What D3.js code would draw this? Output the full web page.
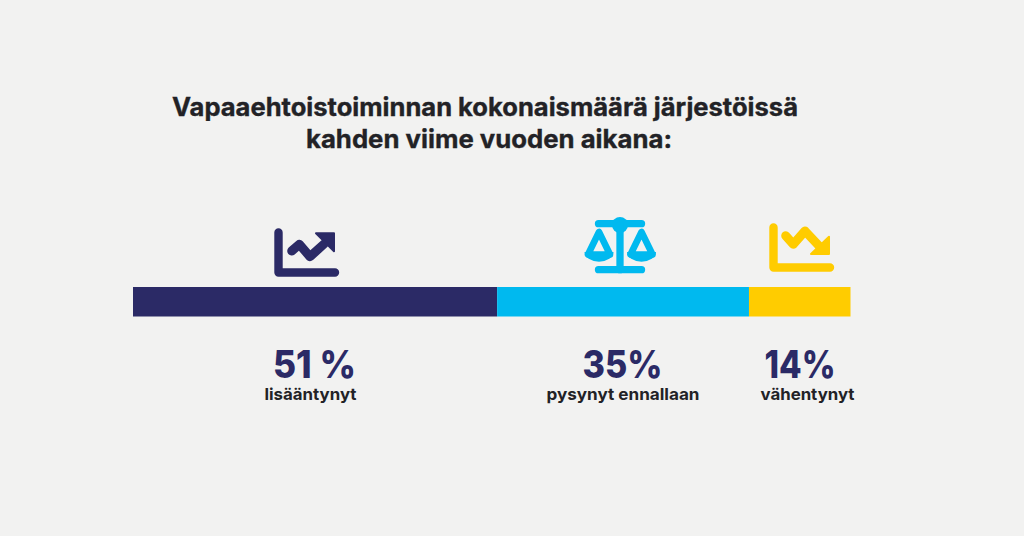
<!DOCTYPE html>
<html><head><meta charset="utf-8">
<script src="https://cdn.jsdelivr.net/npm/d3@7"></script>
<style>html,body{margin:0;padding:0;background:#f2f2f1}svg{display:block}text{font-family:Inter,Lato,sans-serif;}</style>
</head><body><svg width="1024" height="536"></svg>
<script>
const titleLines = ["Vapaaehtoistoiminnan kokonaismäärä järjestöissä","kahden viime vuoden aikana:"];
const categories = ["lisääntynyt","pysynyt ennallaan","vähentynyt"];
const values = [50.75,35.1,14.15];
const valueLabels = ["51 %","35%","14%"];
const colors = ["#2b2a66","#00b9ef","#ffcc00"];
const titleCenters = [485,489];
const titleWidths = [626,366];
const valueCenters = [314.5,622.5,800];
const valueWidths = [83,80,71];
const catCenters = [310.5,623,807.5];
const catWidths = [92,153,94];

const svg = d3.select("svg");
const x = d3.scaleLinear().domain([0,100]).range([133,850.5]);

svg.selectAll("text.title").data(titleLines).join("text").attr("class","title")
  .attr("x",(d,i)=>titleCenters[i]).attr("y",(d,i)=>116+i*32)
  .attr("text-anchor","middle").attr("font-size",25).attr("font-weight",700)
  .attr("textLength",(d,i)=>titleWidths[i]).attr("lengthAdjust","spacingAndGlyphs")
  .attr("fill","#222226").attr("stroke","#222226").attr("stroke-width",0.35).text(d=>d);

let acc = 0;
const stacked = values.map(v=>{const s={x0:acc,x1:acc+v};acc+=v;return s;});
svg.selectAll("rect.seg").data(stacked).join("rect").attr("class","seg")
  .attr("x",d=>x(d.x0)).attr("width",d=>x(d.x1)-x(d.x0))
  .attr("y",287).attr("height",29.5).attr("fill",(d,i)=>colors[i]);

svg.selectAll("text.val").data(valueLabels).join("text").attr("class","val")
  .attr("x",(d,i)=>valueCenters[i]).attr("y",378).attr("text-anchor","middle")
  .attr("font-size",38).attr("font-weight",800)
  .attr("textLength",(d,i)=>valueWidths[i]).attr("lengthAdjust","spacingAndGlyphs")
  .attr("fill","#2b2a66").text(d=>d);
svg.selectAll("text.cat").data(categories).join("text").attr("class","cat")
  .attr("x",(d,i)=>catCenters[i]).attr("y",400).attr("text-anchor","middle")
  .attr("font-size",16.5).attr("font-weight",700)
  .attr("textLength",(d,i)=>catWidths[i]).attr("lengthAdjust","spacingAndGlyphs")
  .attr("fill","#222226").text(d=>d);

function stroke(g,d,c,w){
  g.append("path").attr("d",d).attr("fill","none").attr("stroke",c).attr("stroke-width",w).attr("stroke-linecap","round").attr("stroke-linejoin","round");
}
function head(g,d,c){
  g.append("path").attr("d",d).attr("fill",c).attr("stroke",c).attr("stroke-width",2).attr("stroke-linejoin","round");
}
const up = svg.append("g").attr("transform","translate(306,249)");
stroke(up,"M-27.5,-16.5V23.5H29",colors[0],8.4);
stroke(up,"M-14.3,2L-6.7,-4.7L4,7.7L18,-5",colors[0],9);
head(up,"M10,-15.7H28V2.3Z",colors[0]);

const down = svg.append("g").attr("transform","translate(801,246)");
stroke(down,"M-27.5,-18.5V21.5H29",colors[2],8.4);
stroke(down,"M-15.3,-10.3L-7.7,-1.7L4,-15L20,2",colors[2],9);
head(down,"M28,-9.3V8H10Z",colors[2]);

const sc = svg.append("g").attr("transform","translate(620,244)");
stroke(sc,"M-21.5,-20.3H21.5",colors[1],7.3);
sc.append("circle").attr("cy",-19).attr("r",8).attr("fill",colors[1]);
stroke(sc,"M0,-19V25.7",colors[1],7.3);
stroke(sc,"M-21.5,25.7H21.5",colors[1],7.3);
[-21,21.5].forEach(dx=>{
  const p = sc.append("g").attr("transform",`translate(${dx},0)`);
  stroke(p,"M0,-12L-11,10.5H11Z",colors[1],6.6);
  p.append("path").attr("d","M-14.5,8H14.5A14.5,9.7 0 0 1 -14.5,8Z").attr("fill",colors[1]);
});
</script></body></html>
